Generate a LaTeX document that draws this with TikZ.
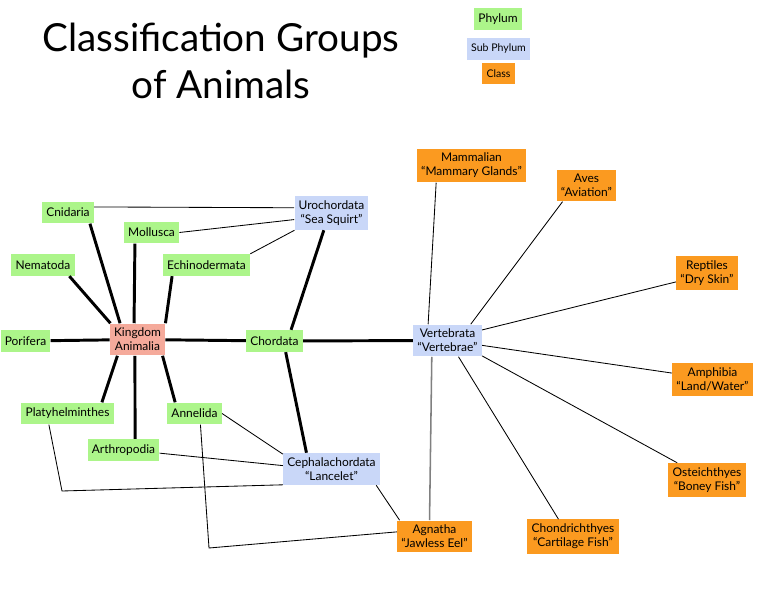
\documentclass[tikz,border=0pt]{standalone}
\usepackage{fontspec}
\setmainfont{Lato}
\usetikzlibrary{positioning}

\definecolor{phylumgreen}{RGB}{172,245,138}
\definecolor{subblue}{RGB}{201,215,248}
\definecolor{classorange}{RGB}{251,154,32}
\definecolor{kingdomred}{RGB}{245,170,155}

\tikzset{
  box/.style={inner xsep=3pt, inner ysep=3.2pt, minimum height=15.5pt,
    align=center, font=\fontsize{8.5}{10}\selectfont},
  phylum/.style={box, fill=phylumgreen},
  subphylum/.style={box, fill=subblue},
  class/.style={box, fill=classorange},
  kingdom/.style={box, fill=kingdomred},
  thickedge/.style={line width=2.1pt},
  thinedge/.style={line width=0.6pt}
}

\begin{document}
\begin{tikzpicture}[x=0.025cm, y=-0.025cm]
  \useasboundingbox (0,0) rectangle (776,589);

  %% Title and legend
  \node[align=center, font=\fontsize{27.5}{34}\selectfont] (title) at (221,61)
    {Classification Groups\\of Animals};
  \node[phylum] (legphy) at (498,19) {Phylum};
  \node[subphylum, font=\fontsize{7.5}{9}\selectfont] (legsub) at (498.5,49) {Sub Phylum};
  \node[class, font=\fontsize{7.5}{9}\selectfont] (legcls) at (498.5,73.5) {Class};

  %% Kingdom and phyla
  \node[kingdom] (king) at (137.5,339.5) {Kingdom\\Animalia};
  \node[phylum] (cnid) at (68,212.5) {Cnidaria};
  \node[phylum] (moll) at (151.5,232.5) {Mollusca};
  \node[phylum] (nema) at (43,265) {Nematoda};
  \node[phylum] (echi) at (206.5,265) {Echinodermata};
  \node[phylum] (pori) at (25.5,341) {Porifera};
  \node[phylum] (chor) at (274.5,341) {Chordata};
  \node[phylum] (plat) at (67.5,413.5) {Platyhelminthes};
  \node[phylum] (anne) at (194.5,413.5) {Annelida};
  \node[phylum] (arth) at (123.5,450) {Arthropodia};

  %% Sub phyla
  \node[subphylum] (uro) at (331.5,213) {Urochordata\\``Sea Squirt''};
  \node[subphylum] (vert) at (447.5,340.5) {Vertebrata\\``Vertebrae''};
  \node[subphylum] (ceph) at (331.5,469) {Cephalachordata\\``Lancelet''};

  %% Classes
  \node[class] (mamm) at (471.5,165.5) {Mammalian\\``Mammary Glands''};
  \node[class] (aves) at (586.5,185.5) {Aves\\``Aviation''};
  \node[class] (rept) at (707,273) {Reptiles\\``Dry Skin''};
  \node[class] (amph) at (712.5,379.5) {Amphibia\\``Land/Water''};
  \node[class] (oste) at (707,480) {Osteichthyes\\``Boney Fish''};
  \node[class] (chon) at (573,536.5) {Chondrichthyes\\``Cartilage Fish''};
  \node[class] (agna) at (434.5,536.5) {Agnatha\\``Jawless Eel''};

  % bends of the long connectors
  \coordinate (platbend) at (62,491);
  \coordinate (annebend) at (209,548);

  %% Thick connectors from the kingdom
  \draw[thickedge] (cnid.333) -- (king.137);
  \draw[thickedge] (moll.214) -- (king.102);
  \draw[thickedge] (nema.337) -- (king.149);
  \draw[thickedge] (echi.198) -- (king.north east);
  \draw[thickedge] (pori) -- (king);
  \draw[thickedge] (plat.18) -- (king.219);
  \draw[thickedge] (arth.44) -- (king.261);
  \draw[thickedge] (anne.150) -- (king.327);
  \draw[thickedge] (king) -- (chor);

  %% Thick connectors from chordata
  \draw[thickedge] (chor.34) -- (uro.246);
  \draw[thickedge] (chor.315) -- (ceph.147);
  \draw[thickedge] (chor) -- (vert);

  %% Thin connectors
  \draw[thinedge] (cnid.12) -- (uro.172);
  \draw[thinedge] (moll.east) -- (uro.190);
  \draw[thinedge] (echi.north east) -- (uro.205);
  \draw[thinedge] (anne.east) -- (ceph.163);
  \draw[thinedge] (arth.355) -- (ceph.176);
  \draw[thinedge] (plat.211) -- (platbend) -- (ceph.198);
  \draw[thinedge] (anne.298) -- (annebend) -- (agna.173);
  \draw[thinedge] (ceph.340) -- (agna.155);

  %% Vertebrata to the classes
  \draw[thinedge] (vert.140) -- (mamm.206);
  \draw[thinedge] (vert.35) -- (aves.214);
  \draw[thinedge] (vert.17) -- (rept.196);
  \draw[thinedge] (vert.352) -- (amph.171);
  \draw[thinedge] (vert.336) -- (oste.150);
  \draw[thinedge] (vert.304) -- (chon.130);
  \draw[line width=1.1pt, gray] (vert.226) -- (agna.107);
\end{tikzpicture}
\end{document}
